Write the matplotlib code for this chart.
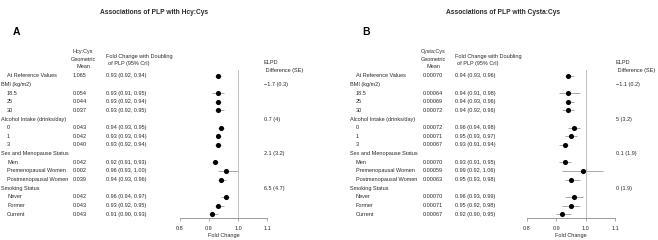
import numpy as np
import matplotlib
matplotlib.use("Agg")
import matplotlib.pyplot as plt
from matplotlib.transforms import blended_transform_factory

plt.rcParams['font.family'] = ['Liberation Sans', 'DejaVu Sans']

# ---------------- data ----------------
row_labels = ["At Reference Values", "BMI (kg/m2)", "18.5", "25", "30",
              "Alcohol Intake (drinks/day)", "0", "1", "3",
              "Sex and Menopause Status", "Men", "Premenopausal Women",
              "Postmenopausal Women", "Smoking Status", "Never", "Former", "Current"]
is_header = [False, True, False, False, False, True, False, False, False,
             True, False, False, False, True, False, False, False]

# Panel A: Hcy:Cys
hcy_mean = ["1.065", "", "0.054", "0.044", "0.037", "", "0.043", "0.042", "0.040",
            "", "0.042", "0.002", "0.039", "", "0.042", "0.043", "0.043"]
hcy_est = [0.93, np.nan, 0.93, 0.93, 0.93, np.nan, 0.94, 0.93, 0.93,
           np.nan, 0.92, 0.96, 0.94, np.nan, 0.96, 0.93, 0.91]
hcy_lo = [0.92, np.nan, 0.91, 0.92, 0.92, np.nan, 0.93, 0.93, 0.92,
          np.nan, 0.91, 0.93, 0.93, np.nan, 0.94, 0.92, 0.90]
hcy_hi = [0.94, np.nan, 0.95, 0.94, 0.95, np.nan, 0.95, 0.94, 0.94,
          np.nan, 0.93, 1.00, 0.96, np.nan, 0.97, 0.95, 0.93]
hcy_elpd = ["", "\u22121.7 (0.3)", "", "", "", "0.7 (4)", "", "", "",
            "2.1 (3.2)", "", "", "", "6.5 (4.7)", "", "", ""]

# Panel B: Cysta:Cys
cys_mean = ["0.00070", "", "0.00064", "0.00069", "0.00072", "", "0.00072", "0.00071",
            "0.00067", "", "0.00070", "0.00059", "0.00063", "", "0.00070", "0.00071", "0.00067"]
cys_est = [0.94, np.nan, 0.94, 0.94, 0.94, np.nan, 0.96, 0.95, 0.93,
           np.nan, 0.93, 0.99, 0.95, np.nan, 0.96, 0.95, 0.92]
cys_lo = [0.93, np.nan, 0.91, 0.93, 0.92, np.nan, 0.94, 0.93, 0.91,
          np.nan, 0.91, 0.92, 0.93, np.nan, 0.93, 0.92, 0.90]
cys_hi = [0.96, np.nan, 0.98, 0.96, 0.96, np.nan, 0.98, 0.97, 0.94,
          np.nan, 0.95, 1.06, 0.98, np.nan, 0.99, 0.98, 0.95]
cys_elpd = ["", "\u22121.1 (0.2)", "", "", "", "5 (3.2)", "", "", "",
            "0.1 (1.9)", "", "", "", "0 (1.9)", "", "", ""]

x_ticks = [0.8, 0.9, 1.0, 1.1]

# ---------------- layout ----------------
W, H = 658, 240
fig = plt.figure(figsize=(W / 100, H / 100), dpi=100)
TXT = '#2a2a2a'
FS = 4.0

def fx(px):
    return px / W

def fy(py):
    return 1 - py / H

row0_px, row_step = 75.7, 8.66
ax_top_px, ax_bot_px = 70.0, 218.3
r_top = (ax_top_px - row0_px) / row_step
r_bot = (ax_bot_px - row0_px) / row_step


def panel(letter, title, title_cx, metric, means, est, lo, hi, elpd,
          x_lab, x_mean, mean_hdr_cx, x_fold, x_ax0, x_ax1, x_elpd):
    fig.text(fx(title_cx), fy(13), title, ha='center', va='center',
             fontsize=4.8, fontweight='bold', color=TXT)
    fig.text(fx(x_lab + 12), fy(32), letter, ha='left', va='center',
             fontsize=7.5, fontweight='bold', color='black')

    ax = fig.add_axes([fx(x_ax0), fy(ax_bot_px), fx(x_ax1) - fx(x_ax0),
                       (ax_bot_px - ax_top_px) / H])
    ax.set_xlim(x_ticks[0], x_ticks[-1])
    ax.set_ylim(r_bot, r_top)
    rows = np.arange(len(row_labels))
    est_a = np.array(est, float)
    ok = ~np.isnan(est_a)
    ax.hlines(rows[ok], np.array(lo)[ok], np.array(hi)[ok], color='#9a9a9a', lw=0.6, zorder=2)
    ax.plot(est_a[ok], rows[ok], 'o', color='black', ms=3.7, mew=0, zorder=3)
    ax.axvline(1.0, color='#b5b5b5', lw=0.6, zorder=1)
    for s in ['left', 'right', 'top']:
        ax.spines[s].set_visible(False)
    ax.spines['bottom'].set_color('#8a8a8a')
    ax.spines['bottom'].set_linewidth(0.6)
    ax.set_yticks([])
    ax.set_xticks(x_ticks)
    ax.set_xticklabels([f"{t:.1f}" for t in x_ticks])
    ax.tick_params(axis='x', length=2.2, width=0.5, color='#8a8a8a', pad=3.5,
                   labelsize=FS, labelcolor=TXT)
    ax.set_xlabel("Fold Change", fontsize=FS, color=TXT, labelpad=1.5)
    ax.patch.set_alpha(0)

    tr = blended_transform_factory(fig.transFigure, ax.transData)
    for i, lab in enumerate(row_labels):
        xx = x_lab if is_header[i] else x_lab + 6
        ax.text(fx(xx), i, lab, transform=tr, ha='left', va='center',
                fontsize=FS, color=TXT, clip_on=False)
        if means[i]:
            ax.text(fx(x_mean), i, means[i], transform=tr, ha='left', va='center',
                    fontsize=FS, color=TXT, clip_on=False)
        if not np.isnan(est[i]):
            ax.text(fx(x_fold), i, f"{est[i]:.2f} ({lo[i]:.2f}, {hi[i]:.2f})",
                    transform=tr, ha='left', va='center', fontsize=FS, color=TXT,
                    clip_on=False)
        if elpd[i]:
            ax.text(fx(x_elpd), i, elpd[i], transform=tr, ha='left', va='center',
                    fontsize=FS, color=TXT, clip_on=False)

    # column headers
    for txt, y in [(metric, 51.7), ("Geometric", 59.5), ("Mean", 67.0)]:
        fig.text(fx(mean_hdr_cx), fy(y), txt, ha='center', va='center',
                 fontsize=FS, color=TXT)
    fig.text(fx(x_fold), fy(56.5), "Fold Change with Doubling", ha='left',
             va='center', fontsize=FS, color=TXT)
    fig.text(fx(x_fold + 2), fy(63.5), "of PLP (95% CrI)", ha='left',
             va='center', fontsize=FS, color=TXT)
    fig.text(fx(x_elpd), fy(62), "ELPD", ha='left', va='center',
             fontsize=FS, color=TXT)
    fig.text(fx(x_elpd), fy(70.5), " Difference (SE)", ha='left', va='center',
             fontsize=FS, color=TXT)


panel("A", "Associations of PLP with Hcy:Cys", 154, "Hcy:Cys",
      hcy_mean, hcy_est, hcy_lo, hcy_hi, hcy_elpd,
      x_lab=1, x_mean=73, mean_hdr_cx=83, x_fold=106,
      x_ax0=180, x_ax1=267, x_elpd=264)

panel("B", "Associations of PLP with Cysta:Cys", 503, "Cysta:Cys",
      cys_mean, cys_est, cys_lo, cys_hi, cys_elpd,
      x_lab=350, x_mean=423, mean_hdr_cx=433, x_fold=455,
      x_ax0=527, x_ax1=615, x_elpd=616)

fig.savefig("out.png", dpi=100)
